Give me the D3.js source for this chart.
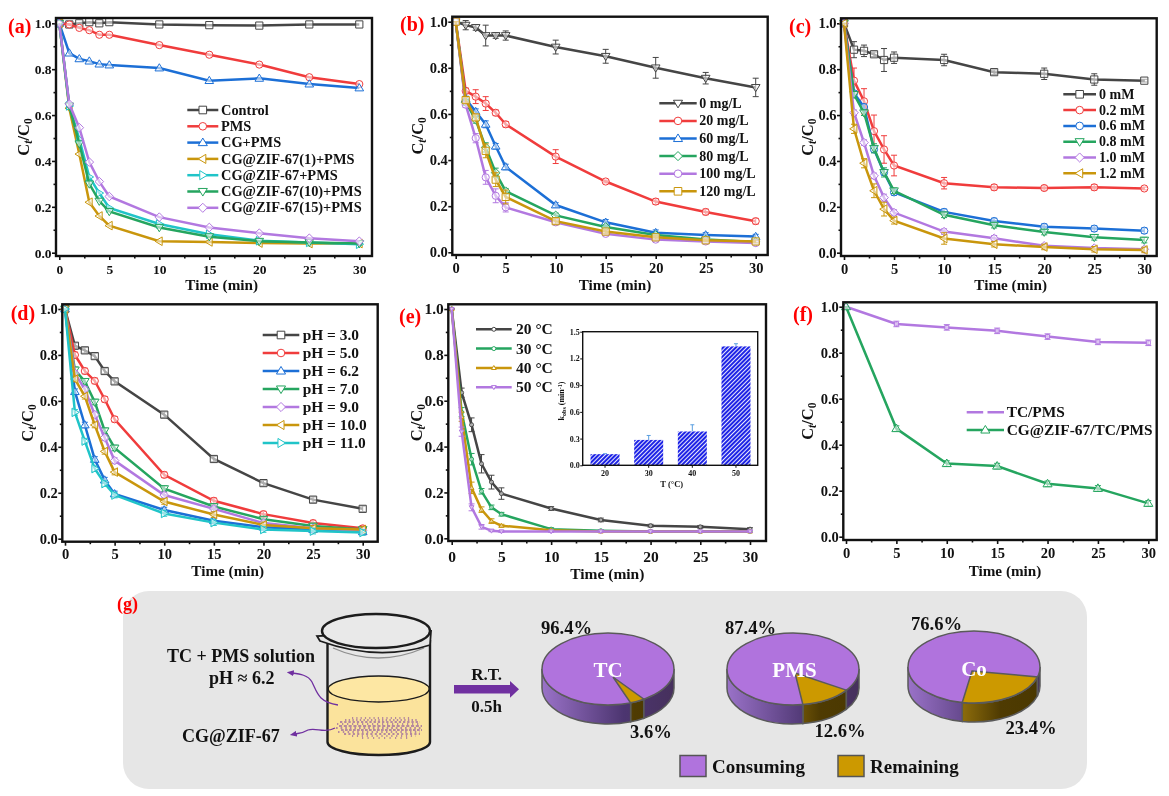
<html>

<head>
	<meta charset="utf-8">
	<script src="https://d3js.org/d3.v7.min.js"></script>
	<style>
		body { margin: 0; background: #fff; }
		svg { display: block; filter: blur(0.5px); }
		text { font-family: "Liberation Serif", serif; font-weight: bold; fill: #111; }
	</style>
</head>

<body>
	<svg width="1169" height="796"></svg>
	<script>
		// shared x values
		var timeMin = [0, 1, 2, 3, 4, 5, 10, 15, 20, 25, 30];
		var timeF = [0, 5, 10, 15, 20, 25, 30];
		var xTicks = [0, 5, 10, 15, 20, 25, 30];
		var xMinor = [2.5, 7.5, 12.5, 17.5, 22.5, 27.5];
		var yTicks = [0, 0.2, 0.4, 0.6, 0.8, 1];
		var yMinor = [0.1, 0.3, 0.5, 0.7, 0.9];

		// (a)
		var aNames = ["Control", "PMS", "CG+PMS", "CG@ZIF-67(1)+PMS", "CG@ZIF-67+PMS", "CG@ZIF-67(10)+PMS", "CG@ZIF-67(15)+PMS"];
		var aControl = [1, 0.995, 1, 1.005, 1, 1.005, 0.995, 0.992, 0.99, 0.995, 0.995];
		var aPms = [1, 0.995, 0.98, 0.97, 0.95, 0.95, 0.905, 0.863, 0.82, 0.765, 0.735];
		var aCg = [1, 0.87, 0.845, 0.835, 0.822, 0.818, 0.805, 0.75, 0.76, 0.735, 0.718];
		var aZif1 = [1, 0.63, 0.43, 0.22, 0.16, 0.118, 0.05, 0.047, 0.042, 0.04, 0.04];
		var aZif5 = [1, 0.64, 0.495, 0.33, 0.26, 0.195, 0.125, 0.08, 0.052, 0.045, 0.037];
		var aZif10 = [1, 0.64, 0.475, 0.3, 0.225, 0.18, 0.11, 0.07, 0.05, 0.045, 0.04];
		var aZif15 = [1, 0.648, 0.545, 0.395, 0.31, 0.245, 0.155, 0.11, 0.085, 0.063, 0.05];

		// (b)
		var bNames = ["0 mg/L", "20 mg/L", "60 mg/L", "80 mg/L", "100 mg/L", "120 mg/L"];
		var b0 = [1, 0.985, 0.975, 0.94, 0.94, 0.94, 0.89, 0.85, 0.8, 0.755, 0.715];
		var b20 = [1, 0.7, 0.675, 0.645, 0.605, 0.555, 0.415, 0.307, 0.22, 0.175, 0.135];
		var b60 = [1, 0.665, 0.61, 0.555, 0.46, 0.37, 0.205, 0.13, 0.085, 0.075, 0.068];
		var b80 = [1, 0.65, 0.575, 0.455, 0.345, 0.265, 0.16, 0.11, 0.075, 0.055, 0.045];
		var b100 = [1, 0.64, 0.495, 0.325, 0.245, 0.195, 0.13, 0.08, 0.055, 0.047, 0.04];
		var b120 = [1, 0.66, 0.585, 0.44, 0.315, 0.24, 0.135, 0.09, 0.065, 0.052, 0.047];
		var b0Err = [0, 0.02, 0.012, 0.045, 0.012, 0.02, 0.03, 0.03, 0.045, 0.025, 0.04];
		var b20Err = [0, 0.012, 0.03, 0.03, 0.012, 0.012, 0.03, 0.006, 0.012, 0.012, 0.012];
		var b60Err = [0, 0.012, 0.012, 0.015, 0.012, 0.012, 0.01, 0.012, 0.012, 0.01, 0.01];
		var b80Err = [0, 0.012, 0.015, 0.02, 0.02, 0.012, 0.01, 0.008, 0.008, 0.006, 0.006];
		var b100Err = [0, 0.012, 0.02, 0.03, 0.03, 0.02, 0.01, 0.008, 0.008, 0.006, 0.006];
		var b120Err = [0, 0.012, 0.012, 0.03, 0.03, 0.03, 0.012, 0.008, 0.008, 0.006, 0.006];

		// (c)
		var cNames = ["0 mM", "0.2 mM", "0.6 mM", "0.8 mM", "1.0 mM", "1.2 mM"];
		var c0 = [1, 0.885, 0.88, 0.865, 0.84, 0.85, 0.84, 0.787, 0.78, 0.755, 0.75];
		var c02 = [1, 0.75, 0.66, 0.53, 0.45, 0.38, 0.303, 0.285, 0.282, 0.285, 0.28];
		var c06 = [1, 0.695, 0.635, 0.45, 0.35, 0.263, 0.178, 0.138, 0.113, 0.105, 0.096];
		var c08 = [1, 0.69, 0.61, 0.455, 0.35, 0.27, 0.165, 0.12, 0.09, 0.067, 0.055];
		var c10 = [1, 0.61, 0.48, 0.335, 0.24, 0.175, 0.092, 0.063, 0.03, 0.02, 0.015];
		var c12 = [1, 0.54, 0.39, 0.27, 0.19, 0.14, 0.062, 0.037, 0.025, 0.015, 0.012];
		var c0Err = [0, 0.035, 0.025, 0.01, 0.05, 0.025, 0.025, 0.01, 0.025, 0.025, 0.006];
		var c02Err = [0, 0.055, 0.055, 0.07, 0.06, 0.045, 0.025, 0.012, 0.01, 0.012, 0.006];
		var c06Err = [0, 0.012, 0.012, 0.012, 0.012, 0.012, 0.012, 0.012, 0.012, 0.012, 0.012];
		var c08Err = [0, 0.012, 0.012, 0.02, 0.02, 0.012, 0.012, 0.012, 0.012, 0.012, 0.012];
		var c10Err = [0, 0.012, 0.012, 0.012, 0.015, 0.012, 0.012, 0.012, 0.008, 0.008, 0.008];
		var c12Err = [0, 0.02, 0.02, 0.03, 0.03, 0.015, 0.025, 0.012, 0.012, 0.012, 0.012];

		// (d)
		var dNames = ["pH = 3.0", "pH = 5.0", "pH = 6.2", "pH = 7.0", "pH = 9.0", "pH = 10.0", "pH = 11.0"];
		var d30 = [1, 0.84, 0.82, 0.795, 0.73, 0.685, 0.54, 0.347, 0.242, 0.17, 0.13];
		var d50 = [1, 0.8, 0.73, 0.687, 0.607, 0.52, 0.278, 0.165, 0.107, 0.068, 0.045];
		var d62 = [1, 0.64, 0.495, 0.345, 0.255, 0.195, 0.125, 0.078, 0.05, 0.04, 0.03];
		var d70 = [1, 0.735, 0.685, 0.595, 0.47, 0.395, 0.218, 0.14, 0.085, 0.055, 0.04];
		var d90 = [1, 0.72, 0.65, 0.54, 0.44, 0.34, 0.19, 0.13, 0.068, 0.045, 0.035];
		var d100 = [1, 0.695, 0.62, 0.495, 0.38, 0.29, 0.162, 0.105, 0.06, 0.045, 0.04];
		var d110 = [1, 0.55, 0.425, 0.305, 0.24, 0.19, 0.11, 0.07, 0.04, 0.033, 0.027];
		var dErr = [0, 0.012, 0.012, 0.012, 0.012, 0.012, 0.012, 0.012, 0.012, 0.012, 0.012];

		// (e)
		var eNames = ["20 °C", "30 °C", "40 °C", "50 °C"];
		var e20 = [1, 0.635, 0.495, 0.325, 0.245, 0.195, 0.13, 0.08, 0.055, 0.05, 0.04];
		var e30 = [1, 0.55, 0.345, 0.205, 0.135, 0.105, 0.04, 0.033, 0.03, 0.03, 0.03];
		var e40 = [1, 0.53, 0.22, 0.125, 0.075, 0.055, 0.035, 0.03, 0.03, 0.03, 0.03];
		var e50 = [1, 0.465, 0.135, 0.05, 0.033, 0.03, 0.03, 0.03, 0.03, 0.03, 0.03];
		var e20Err = [0, 0.02, 0.03, 0.04, 0.03, 0.025, 0.008, 0.008, 0.006, 0.006, 0.006];
		var e30Err = [0, 0.02, 0.025, 0.012, 0.01, 0.008, 0.006, 0.004, 0.004, 0.004, 0.004];
		var e40Err = [0, 0.02, 0.025, 0.012, 0.01, 0.006, 0.004, 0.004, 0.004, 0.004, 0.004];
		var e50Err = [0, 0.02, 0.015, 0.01, 0.004, 0.004, 0.004, 0.004, 0.004, 0.004, 0.004];

		// (e) inset
		var insetTemps = ["20", "30", "40", "50"];
		var insetRates = [0.125, 0.285, 0.38, 1.335];
		var insetErr = [0.005, 0.05, 0.075, 0.03];
		var insetTicks = [0, 0.3, 0.6, 0.9, 1.2, 1.5];

		// (f)
		var fNames = ["TC/PMS", "CG@ZIF-67/TC/PMS"];
		var fControl = [1, 0.925, 0.91, 0.895, 0.87, 0.847, 0.843];
		var fCatalyst = [1, 0.47, 0.318, 0.307, 0.23, 0.21, 0.145];
		var fErr = [0, 0.012, 0.012, 0.012, 0.012, 0.012, 0.012];

		// (g)
		var pieNames = ["TC", "PMS", "Co"];
		var pieConsuming = [96.4, 87.4, 76.6];
		var pieRemaining = [3.6, 12.6, 23.4];
		var pieLegend = ["Consuming", "Remaining"];

		var GRAY = "#454545", RED = "#f03c3c", BLUE = "#1c6fd6", GOLD = "#c9960c",
			CYAN = "#20c4c8", GREEN = "#25a55f", PURPLE = "#b278e0";

		var panels = [
			{ tag: "(a)", tagX: 8, tagY: 33, frame: [56, 372, 18, 256], xr: [59.3, 359.3], yr: [252.7, 23.3], tickFont: 13.5,
				yTitleX: 24, tickPad: 4, xTitle: [221.7, 289.5], names: aNames, xs: timeMin,
				values: [aControl, aPms, aCg, aZif1, aZif5, aZif10, aZif15],
				errors: [], colors: [GRAY, RED, BLUE, GOLD, CYAN, GREEN, PURPLE],
				symbols: ["square", "circle", "up", "left", "right", "down", "diamond"],
				legend: { x1: 187.3, x2: 218.3, tx: 221, y: 110, dy: 16.3, font: 14.4 } },
			{ tag: "(b)", tagX: 400, tagY: 31, frame: [452.3, 767.7, 16.7, 255], xr: [455.7, 755.7], yr: [252.3, 21.7], tickFont: 14.5,
				yTitleX: 418.3, tickPad: 4, xTitle: [615, 289.5], names: bNames, xs: timeMin,
				values: [b0, b20, b60, b80, b100, b120],
				errors: [b0Err, b20Err, b60Err, b80Err, b100Err, b120Err], colors: [GRAY, RED, BLUE, GREEN, PURPLE, GOLD],
				symbols: ["down", "circle", "up", "diamond", "circle", "square"],
				legend: { x1: 659.3, x2: 696.7, tx: 699.3, y: 103.3, dy: 17.6, font: 14 } },
			{ tag: "(c)", tagX: 789, tagY: 33, frame: [841, 1156.7, 18.3, 256], xr: [844, 1144.3], yr: [252.7, 23.3], tickFont: 14.5,
				yTitleX: 808, tickPad: 3.5, xTitle: [1010.7, 289.5], names: cNames, xs: timeMin,
				values: [c0, c02, c06, c08, c10, c12],
				errors: [c0Err, c02Err, c06Err, c08Err, c10Err, c12Err], colors: [GRAY, RED, BLUE, GREEN, PURPLE, GOLD],
				symbols: ["square", "circle", "circle", "down", "diamond", "left"],
				legend: { x1: 1063.3, x2: 1096, tx: 1099, y: 94.3, dy: 15.8, font: 14 } },
			{ tag: "(d)", tagX: 10.7, tagY: 320, frame: [62.3, 377.7, 304.3, 541.7], xr: [65, 362.7], yr: [538.7, 309], tickFont: 14.5,
				yTitleX: 28, tickPad: 3.5, xTitle: [227.7, 576], names: dNames, xs: timeMin,
				values: [d30, d50, d62, d70, d90, d100, d110],
				errors: [dErr, dErr, dErr, dErr, dErr, dErr, dErr], colors: [GRAY, RED, BLUE, GREEN, PURPLE, GOLD, CYAN],
				symbols: ["square", "circle", "up", "down", "diamond", "left", "right"],
				legend: { x1: 262.7, x2: 299.3, tx: 302.7, y: 335, dy: 18, font: 15.4 } },
			{ tag: "(e)", tagX: 399, tagY: 323, frame: [448.3, 766, 304.3, 541], xr: [451.7, 750], yr: [538.3, 309], tickFont: 15.5,
				yTitleX: 417, tickPad: 5.5, xTitle: [607.3, 578.5], names: eNames, xs: timeMin,
				values: [e20, e30, e40, e50],
				errors: [e20Err, e30Err, e40Err, e50Err], colors: [GRAY, GREEN, GOLD, PURPLE],
				symbols: ["circle", "circle", "up", "down"], r: 2,
				legend: { x1: 476, x2: 511.7, tx: 516, y: 329.3, dy: 19.3, font: 15.5 } },
			{ tag: "(f)", tagX: 793, tagY: 321, frame: [843.3, 1156.7, 302.3, 540], xr: [846, 1148.3], yr: [536.7, 306.7], tickFont: 14.5,
				yTitleX: 808, tickPad: 3.5, xTitle: [1005, 575.5], names: fNames, xs: timeF,
				values: [fControl, fCatalyst],
				errors: [fErr, fErr], colors: [PURPLE, GREEN],
				symbols: ["square", "up"], rs: [2, 3.8], gapFirst: true,
				legend: { x1: 966.7, x2: 1004, tx: 1006.7, y: 412.3, dy: 17.7, font: 15.4 } }
		];

		var svg = d3.select("svg");
		var defs = svg.append("defs");

		function symbolPath(kind, r) {
			if (kind == "circle") return "M" + (-r) + ",0A" + r + "," + r + " 0 1,1 " + r + ",0A" + r + "," + r + " 0 1,1 " + (-r) + ",0Z";
			if (kind == "square") return "M" + (-r) + "," + (-r) + "H" + r + "V" + r + "H" + (-r) + "Z";
			if (kind == "diamond") return "M0," + (-r * 1.2) + "L" + (r * 1.2) + ",0L0," + (r * 1.2) + "L" + (-r * 1.2) + ",0Z";
			var a = r * 1.2, b = r * 0.8;
			if (kind == "up") return "M0," + (-a) + "L" + a + "," + b + "L" + (-a) + "," + b + "Z";
			if (kind == "down") return "M0," + a + "L" + a + "," + (-b) + "L" + (-a) + "," + (-b) + "Z";
			if (kind == "left") return "M" + (-a) + ",0L" + b + "," + (-a) + "L" + b + "," + a + "Z";
			return "M" + a + ",0L" + (-b) + "," + (-a) + "L" + (-b) + "," + a + "Z";
		}

		// y title such as C_t/C_0, with the two subscripts
		function concTitle(sel, size) {
			sel.attr("font-size", size).attr("text-anchor", "middle");
			sel.append("tspan").text("C");
			sel.append("tspan").attr("dy", 3).attr("font-size", size * 0.7).attr("font-style", "italic").text("t");
			sel.append("tspan").attr("dy", -3).text("/C");
			sel.append("tspan").attr("dy", 3).attr("font-size", size * 0.7).text("0");
		}

		function drawAxes(g, x, y, p) {
			var f = p.frame;
			var xAxis = g.append("g").attr("transform", "translate(0," + f[3] + ")")
				.call(d3.axisBottom(x).tickValues(xTicks).tickSize(4).tickPadding(p.tickPad).tickFormat(d3.format("d")));
			var xAxis2 = g.append("g").attr("transform", "translate(0," + f[3] + ")")
				.call(d3.axisBottom(x).tickValues(xMinor).tickSize(2.5).tickFormat(""));
			var yAxis = g.append("g").attr("transform", "translate(" + f[0] + ",0)")
				.call(d3.axisLeft(y).tickValues(yTicks).tickSize(4).tickPadding(0.5).tickFormat(d3.format(".1f")));
			var yAxis2 = g.append("g").attr("transform", "translate(" + f[0] + ",0)")
				.call(d3.axisLeft(y).tickValues(yMinor).tickSize(2.5).tickFormat(""));
			[xAxis, xAxis2, yAxis, yAxis2].forEach(function (a) {
				a.select(".domain").remove();
				a.selectAll("line").attr("stroke", "#111").attr("stroke-width", 1.6);
				a.selectAll("text").attr("font-size", p.tickFont).attr("font-family", null);
			});
		}

		panels.forEach(function (p) {
			var g = svg.append("g");
			var f = p.frame;
			var x = d3.scaleLinear().domain([0, 30]).range(p.xr);
			var y = d3.scaleLinear().domain([0, 1]).range(p.yr);
			var line = d3.line().x(function (d, i) { return x(p.xs[i]); }).y(function (d) { return y(d); });

			drawAxes(g, x, y, p);

			p.values.forEach(function (vals, s) {
				var sg = g.append("g");
				var color = p.colors[s];
				var r = p.rs ? p.rs[s] : (p.r || 3.6);
				var errs = p.errors[s];
				if (errs) {
					var eb = sg.selectAll("g.err").data(vals).enter().append("g").attr("stroke", color).attr("stroke-width", 1);
					eb.append("line")
						.attr("x1", function (d, i) { return x(p.xs[i]); })
						.attr("x2", function (d, i) { return x(p.xs[i]); })
						.attr("y1", function (d, i) { return y(d - errs[i]); })
						.attr("y2", function (d, i) { return y(d + errs[i]); });
					[-1, 1].forEach(function (sign) {
						eb.append("line")
							.attr("x1", function (d, i) { return x(p.xs[i]) - 3; })
							.attr("x2", function (d, i) { return x(p.xs[i]) + 3; })
							.attr("y1", function (d, i) { return y(d + sign * errs[i]); })
							.attr("y2", function (d, i) { return y(d + sign * errs[i]); });
					});
				}
				sg.append("path").attr("d", line(vals)).attr("fill", "none").attr("stroke", color).attr("stroke-width", 2.5);
				sg.selectAll("path.mark").data(vals).enter().append("path").attr("class", "mark")
					.attr("d", symbolPath(p.symbols[s], r))
					.attr("transform", function (d, i) { return "translate(" + x(p.xs[i]) + "," + y(d) + ")"; })
					.attr("fill", "rgba(255,255,255,0.55)").attr("stroke", color).attr("stroke-width", 1);
			});

			// frame goes over the axes and the data
			g.append("rect").attr("x", f[0]).attr("y", f[2]).attr("width", f[1] - f[0]).attr("height", f[3] - f[2])
				.attr("fill", "none").attr("stroke", "#111").attr("stroke-width", 2.4);

			g.append("text").attr("x", p.tagX).attr("y", p.tagY).attr("font-size", 20).style("fill", "#f00").text(p.tag);
			g.append("text").attr("x", p.xTitle[0]).attr("y", p.xTitle[1]).attr("text-anchor", "middle")
				.attr("font-size", p.tag == "(e)" ? 15.5 : 15.2).text("Time (min)");
			g.append("text").attr("transform", "translate(" + (p.yTitleX + 5) + "," + ((f[2] + f[3]) / 2) + ") rotate(-90)").call(concTitle, 16.5);

			// legend
			var L = p.legend;
			p.names.forEach(function (name, s) {
				var ly = L.y + s * L.dy;
				var color = p.colors[s];
				var r = p.rs ? p.rs[s] : (p.r || 3.8);
				var lg = g.append("g");
				var ll = lg.append("line").attr("x1", L.x1).attr("x2", L.x2).attr("y1", ly).attr("y2", ly)
					.attr("stroke", color).attr("stroke-width", 2.5);
				if (p.gapFirst && s == 0) {
					ll.attr("stroke-dasharray", "16.5,4.3,16.5");
				} else {
					lg.append("path").attr("d", symbolPath(p.symbols[s], r))
						.attr("transform", "translate(" + ((L.x1 + L.x2) / 2) + "," + ly + ")")
						.attr("fill", "#fff").attr("stroke", color).attr("stroke-width", 1);
				}
				lg.append("text").attr("x", L.tx).attr("y", ly + L.font * 0.32).attr("font-size", L.font).text(name);
			});
		});

		// inset of (e)
		var insetFrame = [582.7, 757.7, 331.7, 465.3];
		var insetG = svg.append("g");
		var hatch = defs.append("pattern").attr("id", "hatch").attr("patternUnits", "userSpaceOnUse")
			.attr("width", 3).attr("height", 3).attr("patternTransform", "rotate(45)");
		hatch.append("rect").attr("width", 3).attr("height", 3).attr("fill", "#fff");
		hatch.append("rect").attr("width", 2.1).attr("height", 3).attr("fill", "#1e24e6");

		var ix = d3.scaleBand().domain(insetTemps).range([583.2, 757.8]).paddingInner(0.336).paddingOuter(0.168);
		var iy = d3.scaleLinear().domain([0, 1.5]).range([insetFrame[3], insetFrame[2]]);

		insetG.selectAll("line.err").data(insetRates).enter().append("line").attr("class", "err")
			.attr("x1", function (d, i) { return ix(insetTemps[i]) + ix.bandwidth() / 2; })
			.attr("x2", function (d, i) { return ix(insetTemps[i]) + ix.bandwidth() / 2; })
			.attr("y1", function (d, i) { return iy(d); })
			.attr("y2", function (d, i) { return iy(d + insetErr[i]); })
			.attr("stroke", "#5a9fe0").attr("stroke-width", 1);
		insetG.selectAll("line.cap").data(insetRates).enter().append("line").attr("class", "cap")
			.attr("x1", function (d, i) { return ix(insetTemps[i]) + ix.bandwidth() / 2 - 2; })
			.attr("x2", function (d, i) { return ix(insetTemps[i]) + ix.bandwidth() / 2 + 2; })
			.attr("y1", function (d, i) { return iy(d + insetErr[i]); })
			.attr("y2", function (d, i) { return iy(d + insetErr[i]); })
			.attr("stroke", "#5a9fe0").attr("stroke-width", 1);
		insetG.selectAll("rect.bar").data(insetRates).enter().append("rect").attr("class", "bar")
			.attr("x", function (d, i) { return ix(insetTemps[i]); })
			.attr("width", ix.bandwidth())
			.attr("y", function (d) { return iy(d); })
			.attr("height", function (d) { return iy(0) - iy(d); })
			.attr("fill", "url(#hatch)");

		var ixAxis = insetG.append("g").attr("transform", "translate(0," + insetFrame[3] + ")").call(d3.axisBottom(ix).tickSize(2.5).tickPadding(2.5));
		var iyAxis = insetG.append("g").attr("transform", "translate(" + insetFrame[0] + ",0)")
			.call(d3.axisLeft(iy).tickValues(insetTicks).tickSize(2.5).tickPadding(0.5).tickFormat(d3.format(".1f")));
		[ixAxis, iyAxis].forEach(function (a) {
			a.select(".domain").remove();
			a.selectAll("line").attr("stroke", "#111");
			a.selectAll("text").attr("font-size", 8).attr("font-family", null);
		});
		insetG.append("rect").attr("x", insetFrame[0]).attr("y", insetFrame[2])
			.attr("width", insetFrame[1] - insetFrame[0]).attr("height", insetFrame[3] - insetFrame[2])
			.attr("fill", "none").attr("stroke", "#111").attr("stroke-width", 1.4);
		insetG.append("text").attr("x", 671.7).attr("y", 486.7).attr("text-anchor", "middle").attr("font-size", 8.5).text("T (°C)");
		var kTitle = insetG.append("text").attr("transform", "translate(564,401) rotate(-90)").attr("text-anchor", "middle").attr("font-size", 8);
		kTitle.append("tspan").text("k");
		kTitle.append("tspan").attr("dy", 2).attr("font-size", 6).text("obs");
		kTitle.append("tspan").attr("dy", -2).text(" (min");
		kTitle.append("tspan").attr("dy", -2).attr("font-size", 6).text("-1");
		kTitle.append("tspan").attr("dy", 2).text(")");

		// (g) background
		var gPanel = svg.append("g");
		gPanel.append("rect").attr("x", 123).attr("y", 591).attr("width", 964).attr("height", 198).attr("rx", 26)
			.attr("fill", "#e6e6e6");
		gPanel.append("text").attr("x", 117).attr("y", 610).attr("font-size", 18).style("fill", "#f00").text("(g)");

		// beaker
		var ink = "#1c1c1c", violet = "#7030a0";
		var beaker = gPanel.append("g");
		beaker.append("path").attr("d", "M327.5,689 V742 A51,13 0 0 0 430,742 V689 A51,13 0 0 0 327.5,689 Z").attr("fill", "#fbe39c");
		beaker.append("ellipse").attr("cx", 378.7).attr("cy", 689).attr("rx", 50.5).attr("ry", 13).attr("fill", "#fde7a3").attr("stroke", ink).attr("stroke-width", 1.3);
		beaker.append("path").attr("d", "M327.5,640 V742 A51,13 0 0 0 430,742 V640").attr("fill", "none").attr("stroke", ink).attr("stroke-width", 2.4);
		beaker.append("path").attr("d", "M333,648 Q378,668 424,648").attr("fill", "none").attr("stroke", "#8e8e8e").attr("stroke-width", 1.3);
		beaker.append("path").attr("d", "M317,636 L320,641 Q378,662 430,645 L431,631 Z").attr("fill", "#e6e6e6").attr("stroke", ink).attr("stroke-width", 1.8);
		beaker.append("ellipse").attr("cx", 376).attr("cy", 631).attr("rx", 54).attr("ry", 17).attr("fill", "#e9e9e9").attr("stroke", ink).attr("stroke-width", 2.4);

		// particles as dashed rows, widest in the middle of the layer
		var particleRows = [
			[352, 410, 718, "1.2,3.1"], [345, 418, 720, "1.4,2.3"], [340, 420, 722, "2.3,1.9"], [337, 421, 724, "1.3,3.7"],
			[339, 422, 726, "3.1,1.7"], [336, 421, 728, "1.7,2.9"], [341, 422, 730, "2.7,1.3"], [338, 420, 732, "1.5,3.3"],
			[344, 420, 734, "2.1,2.3"], [352, 416, 736, "1.2,3.7"], [362, 408, 738, "1.2,4.3"]
		];
		beaker.selectAll("line.dust").data(particleRows).enter().append("line").attr("class", "dust")
			.attr("x1", function (d) { return d[0]; }).attr("x2", function (d) { return d[1]; })
			.attr("y1", function (d) { return d[2]; }).attr("y2", function (d) { return d[2]; })
			.attr("stroke-dasharray", function (d) { return d[3]; })
			.attr("stroke", violet).attr("stroke-width", 1.2);

		var head = defs.append("marker").attr("id", "head").attr("viewBox", "0 0 8 8").attr("refX", 2).attr("refY", 4)
			.attr("markerWidth", 7).attr("markerHeight", 7).attr("orient", "auto-start-reverse").attr("markerUnits", "userSpaceOnUse");
		head.append("path").attr("d", "M0,0.5 L8,4 L0,7.5 Z").attr("fill", violet);
		gPanel.append("path").attr("d", "M338,705 C318,702 317,692 312,682 C308,675 300,674 292,673").attr("fill", "none")
			.attr("stroke", violet).attr("stroke-width", 1.3).attr("marker-end", "url(#head)");
		gPanel.append("path").attr("d", "M335,728 C325,734 316,727 308,730 C303,733 300,733 295,734").attr("fill", "none")
			.attr("stroke", violet).attr("stroke-width", 1.3).attr("marker-end", "url(#head)");

		gPanel.append("text").attr("x", 241).attr("y", 662).attr("text-anchor", "middle").attr("font-size", 18).text("TC + PMS solution");
		gPanel.append("text").attr("x", 241.7).attr("y", 684).attr("text-anchor", "middle").attr("font-size", 18).text("pH ≈ 6.2");
		gPanel.append("text").attr("x", 182).attr("y", 741.7).attr("font-size", 18).text("CG@ZIF-67");

		gPanel.append("text").attr("x", 486.7).attr("y", 680).attr("text-anchor", "middle").attr("font-size", 17).text("R.T.");
		gPanel.append("text").attr("x", 486.7).attr("y", 711.7).attr("text-anchor", "middle").attr("font-size", 17).text("0.5h");
		gPanel.append("path").attr("d", "M454,685 H510 V681 L519,689.3 L510,697.7 V693.4 H454 Z").attr("fill", violet);

		// 3D pies: angles come from d3.pie, drawn on an ellipse with a side wall
		var pieLayout = [
			{ cx: 608, cy: 669, start: 147, apex: [5, 8], label: 676.7, labelX: 608, top: [541, 634], bottom: [630, 737.7] },
			{ cx: 793, cy: 669, start: 126, apex: [2, 4], label: 676.7, labelX: 794.5, top: [725, 634], bottom: [814.5, 737] },
			{ cx: 974, cy: 667, start: 106, apex: [-2, 4], label: 675.7, labelX: 974, top: [911, 630], bottom: [1005.5, 734] }
		];
		var rx = 66, ry = 36, depth = 19, edge = "#5a5a5a";
		var CONSUME = "#b073dd", REMAIN = "#cc9900";

		pieNames.forEach(function (name, k) {
			var L = pieLayout[k];
			var startA = L.start * Math.PI / 180;
			var arcs = d3.pie().sort(null).startAngle(startA).endAngle(startA + 2 * Math.PI).value(function (d) { return d; })
				([pieRemaining[k], pieConsuming[k]]);

			function px(a) { return L.cx + rx * Math.sin(a); }
			function py(a) { return L.cy - ry * Math.cos(a); }

			var purpleGrad = defs.append("linearGradient").attr("id", "wallP" + k).attr("gradientUnits", "userSpaceOnUse")
				.attr("x1", L.cx - rx).attr("x2", L.cx + rx).attr("y1", 0).attr("y2", 0);
			purpleGrad.append("stop").attr("offset", 0).attr("stop-color", "#9a72c8");
			purpleGrad.append("stop").attr("offset", 0.62).attr("stop-color", "#4c3570");
			purpleGrad.append("stop").attr("offset", 1).attr("stop-color", "#46305c");
			var brownGrad = defs.append("linearGradient").attr("id", "wallR" + k).attr("gradientUnits", "userSpaceOnUse")
				.attr("x1", L.cx - rx).attr("x2", L.cx + rx).attr("y1", 0).attr("y2", 0);
			brownGrad.append("stop").attr("offset", 0.4).attr("stop-color", "#8f6e0c");
			brownGrad.append("stop").attr("offset", 0.7).attr("stop-color", "#4f3b02");
			brownGrad.append("stop").attr("offset", 1).attr("stop-color", "#4a3800");

			var pg = gPanel.append("g");

			// side wall: the parts of each slice on the lower half of the ellipse
			arcs.forEach(function (arc, j) {
				[[Math.PI / 2, 3 * Math.PI / 2], [5 * Math.PI / 2, 7 * Math.PI / 2]].forEach(function (half) {
					var a0 = Math.max(arc.startAngle, half[0]), a1 = Math.min(arc.endAngle, half[1]);
					if (a1 <= a0) return;
					pg.append("path")
						.attr("d", "M" + px(a0) + "," + py(a0) + "A" + rx + "," + ry + " 0 0 1 " + px(a1) + "," + py(a1)
							+ "V" + (py(a1) + depth) + "A" + rx + "," + ry + " 0 0 0 " + px(a0) + "," + (py(a0) + depth) + "Z")
						.attr("fill", "url(#" + (j == 0 ? "wallR" : "wallP") + k + ")")
						.attr("stroke", edge).attr("stroke-width", 1.5);
				});
			});

			// top face
			pg.append("ellipse").attr("cx", L.cx).attr("cy", L.cy).attr("rx", rx).attr("ry", ry)
				.attr("fill", CONSUME).attr("stroke", edge).attr("stroke-width", 1.5);
			var rem = arcs[0];
			var large = rem.endAngle - rem.startAngle > Math.PI ? 1 : 0;
			pg.append("path")
				.attr("d", "M" + (L.cx + L.apex[0]) + "," + (L.cy + L.apex[1]) + "L" + px(rem.startAngle) + "," + py(rem.startAngle)
					+ "A" + rx + "," + ry + " 0 " + large + " 1 " + px(rem.endAngle) + "," + py(rem.endAngle) + "Z")
				.attr("fill", REMAIN).attr("stroke", edge).attr("stroke-width", 1.5);

			pg.append("text").attr("x", L.labelX).attr("y", L.label).attr("text-anchor", "middle").attr("font-size", 21).style("fill", "#fff").text(name);
			pg.append("text").attr("x", L.top[0]).attr("y", L.top[1]).attr("font-size", 18.6).text(pieConsuming[k] + "%");
			pg.append("text").attr("x", L.bottom[0]).attr("y", L.bottom[1]).attr("font-size", 18.6).text(pieRemaining[k] + "%");
		});

		// pie legend
		var legendSwatches = [[680, CONSUME], [838, REMAIN]];
		pieLegend.forEach(function (name, i) {
			gPanel.append("rect").attr("x", legendSwatches[i][0]).attr("y", 755.5).attr("width", 26).attr("height", 21)
				.attr("fill", legendSwatches[i][1]).attr("stroke", "#555").attr("stroke-width", 1.5);
			gPanel.append("text").attr("x", legendSwatches[i][0] + 32).attr("y", 773).attr("font-size", 19).text(name);
		});
	</script>

</body>

</html>
